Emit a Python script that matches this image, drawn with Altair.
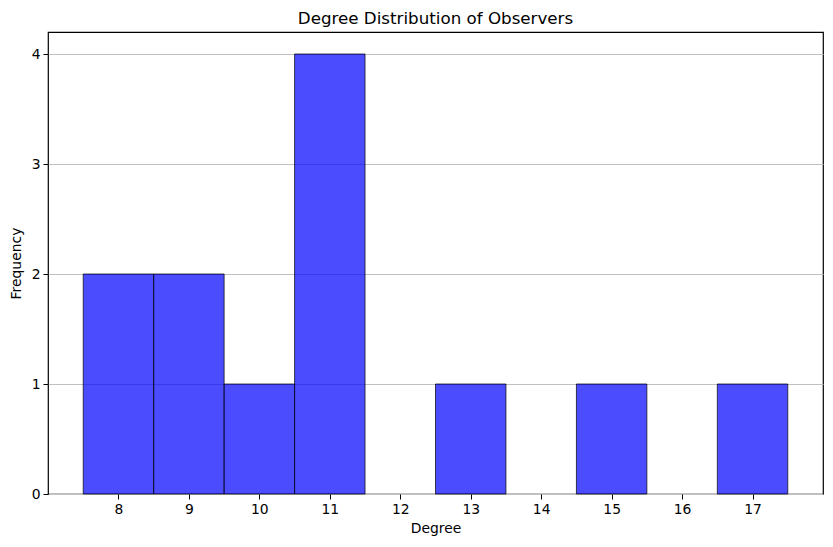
import altair as alt
import pandas as pd

degrees = [8, 9, 10, 11, 13, 15, 17]
counts = [2, 2, 1, 4, 1, 1, 1]
x_ticks = list(range(8, 18))
y_ticks = [0, 1, 2, 3, 4]

df = pd.DataFrame({
    "start": [d - 0.5 for d in degrees],
    "end": [d + 0.5 for d in degrees],
    "count": counts,
    "base": [0] * len(degrees),
})

FONT = "DejaVu Sans"

chart = alt.Chart(df).mark_bar(
    fill="#0000ff", fillOpacity=0.7, stroke="black", strokeOpacity=0.7, strokeWidth=1
).encode(
    x=alt.X("start:Q", scale=alt.Scale(domain=[7, 18], nice=False, zero=False),
            axis=alt.Axis(values=x_ticks, title="Degree", grid=False, domain=False,
                          tickColor="black", tickSize=5, labelPadding=3,
                          labelFontSize=13.9, titleFontSize=13.9, titleFontWeight="normal",
                          labelColor="black", titleColor="black", titlePadding=6,
                          labelFont=FONT, titleFont=FONT, labelFlush=False)),
    x2="end:Q",
    y=alt.Y("count:Q", scale=alt.Scale(domain=[0, 4.2], nice=False),
            axis=alt.Axis(values=y_ticks, title="Frequency", grid=True, gridColor="#c0c0c0",
                          gridWidth=1, domain=False, tickColor="black", tickSize=5,
                          labelPadding=3, labelFontSize=13.9, titleFontSize=13.9,
                          titleFontWeight="normal", labelColor="black", titleColor="black",
                          titlePadding=8, labelFont=FONT, titleFont=FONT)),
    y2="base:Q",
).properties(
    width=775, height=462,
    title=alt.TitleParams("Degree Distribution of Observers", fontSize=16.7, font=FONT,
                          fontWeight="normal", color="black", offset=4),
    autosize=alt.AutoSizeParams(type="none"),
    padding={"left": 40, "top": 24, "right": 2, "bottom": 50},
).configure_view(stroke="black", strokeWidth=1.2)

chart.save("out.html", embed_options={"renderer": "svg", "actions": False})
